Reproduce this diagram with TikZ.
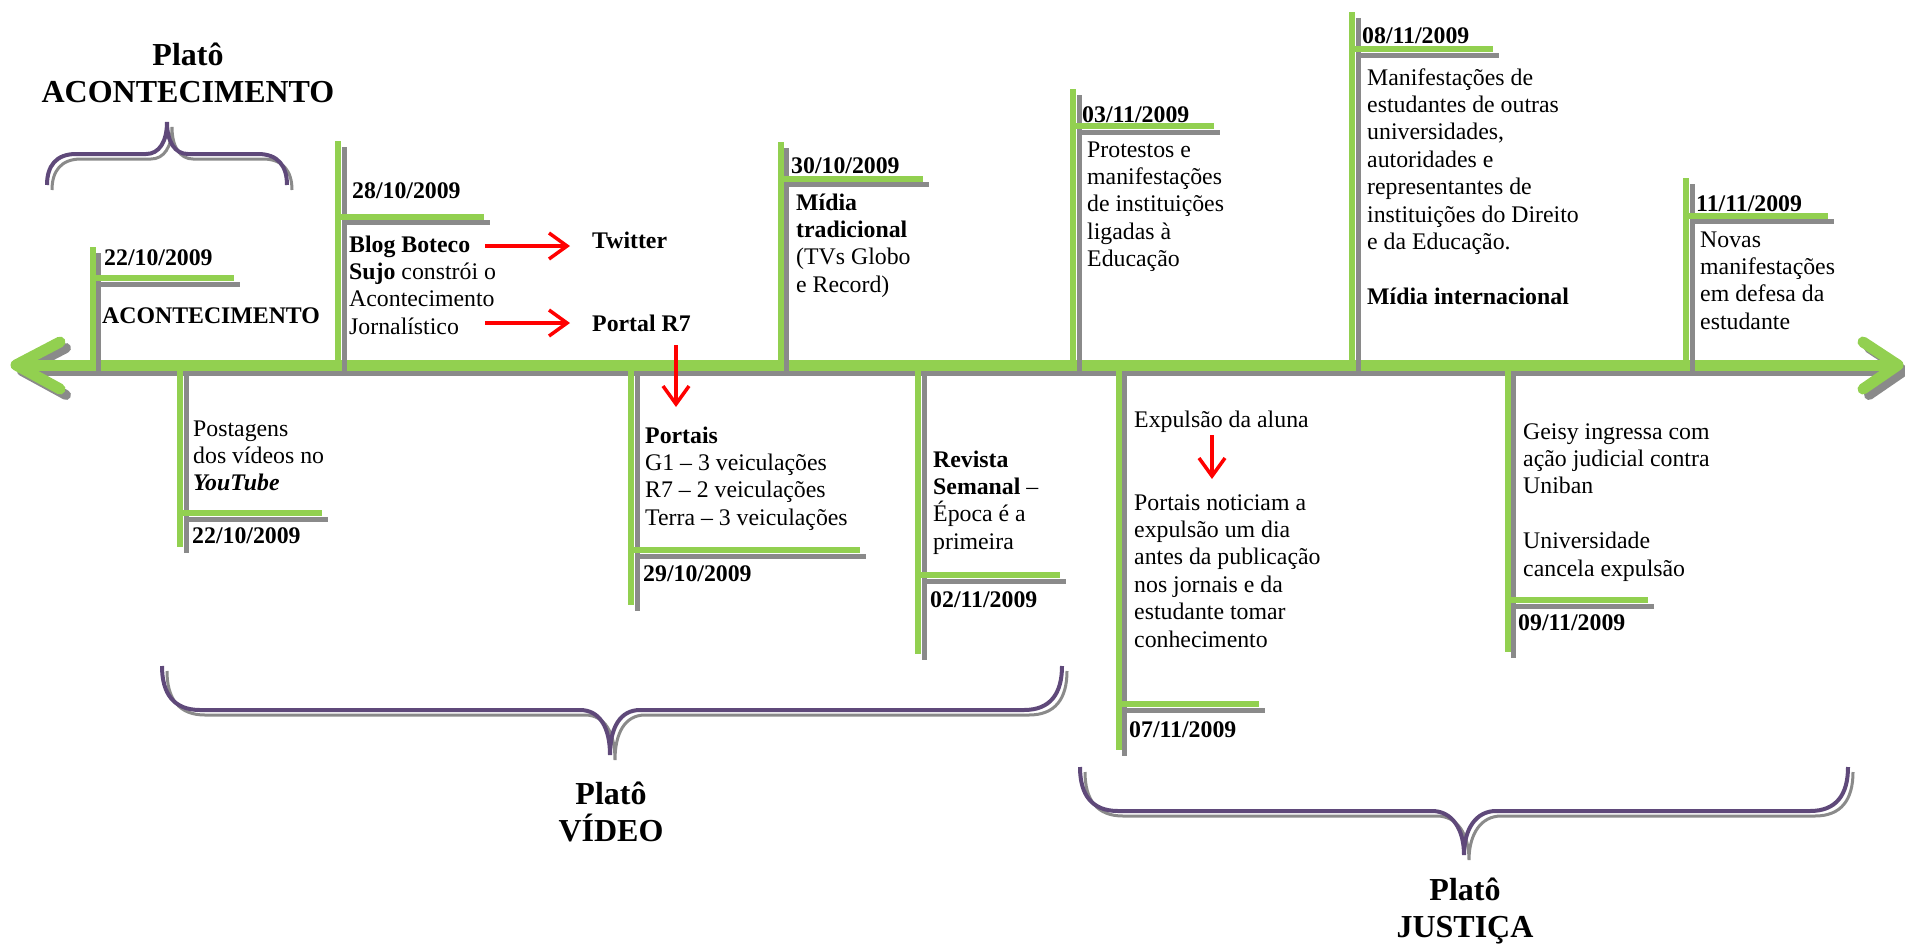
\documentclass[tikz,border=0pt]{standalone}
\usepackage{fontspec}
\setmainfont{Liberation Serif}
\usetikzlibrary{arrows.meta}
\definecolor{tlgreen}{HTML}{92D050}
\definecolor{tlpurple}{HTML}{5F497A}
\definecolor{tlshadow}{HTML}{8A8A8A}
\newcommand\tlmark[5]{%
  \draw[shadow line,shift={(6,6)}] (#1,#2) -- (#1,#3) (#1,#4) -- (#5,#4);
  \draw[green line] (#1,#2) -- (#1,#3) (#1,#4) -- (#5,#4);
}
\begin{document}
\begin{tikzpicture}[x=1pt,y=-1pt,
  green line/.style={draw=tlgreen,line width=6pt},
  shadow line/.style={draw=tlshadow,line width=5pt},
  axis line/.style={draw=tlgreen,line width=11pt,line cap=round,line join=round},
  axis shadow/.style={draw=tlshadow,line width=10pt,line cap=round,line join=round},
  brace line/.style={draw=tlpurple,line width=4pt,line cap=butt},
  brace shadow/.style={draw=tlshadow,line width=3pt,line cap=butt},
  redarrow/.style={draw=red,line width=3.5pt,-{Straight Barb[length=18pt,width=26pt,line width=3.5pt]}},
  txt/.style={font=\fontsize{23.8}{27.4}\selectfont,inner sep=0pt,anchor=base west,align=left},
  datetxt/.style={txt,font=\fontsize{23.8}{27.4}\selectfont\bfseries},
  plato/.style={font=\fontsize{32}{37}\selectfont\bfseries,inner sep=0pt,anchor=base,align=center},
]
\useasboundingbox (0,0) rectangle (1905,946);

% ---------- axis ----------
\begin{scope}[shift={(6,6)}]
  \draw[axis shadow] (20,365) -- (1892,365);
  \draw[axis shadow] (60,342) -- (16,365) -- (60,389);
  \draw[axis shadow] (1863,342) -- (1898,365) -- (1863,389);
\end{scope}
\draw[axis line] (20,365) -- (1892,365);
\draw[axis line] (60,342) -- (16,365) -- (60,389);
\draw[axis line] (1863,342) -- (1898,365) -- (1863,389);

% ---------- event marks ----------
\tlmark{92.5}{247}{365}{278}{234}
\tlmark{180}{365}{547}{513}{322}
\tlmark{338}{141}{365}{216.5}{484}
\tlmark{631}{365}{605}{550}{860}
\tlmark{780.5}{142}{365}{178.5}{923}
\tlmark{918}{365}{654}{575}{1060}
\tlmark{1073}{89}{365}{126}{1214}
\tlmark{1352}{12}{365}{49}{1493}
\tlmark{1118.5}{365}{750}{704}{1259}
\tlmark{1507.5}{365}{652}{600}{1648}
\tlmark{1686}{178}{365}{215.5}{1828}

% ---------- texts (multi-line nodes are placed by their last baseline) ----------
\node[datetxt] (d1) at (104,265) {22/10/2009};
\node[datetxt] (t1) at (102,323) {ACONTECIMENTO};

\node[txt] (t2) at (193,490.8) {Postagens\\dos vídeos no\\\textbf{\textit{YouTube}}};
\node[datetxt] (d2) at (192,543) {22/10/2009};

\node[datetxt] (d3) at (352,198) {28/10/2009};
\node[txt] (t3) at (349,334.2) {\textbf{Blog Boteco}\\\textbf{Sujo} constrói o\\Acontecimento\\Jornalístico};
\node[datetxt] (twitter) at (592,248) {Twitter};
\node[datetxt] (portal) at (592,331) {Portal R7};

\node[txt] (t4) at (645,525.2) {\textbf{Portais}\\G1 – 3 veiculações\\R7 – 2 veiculações\\Terra – 3 veiculações};
\node[datetxt] (d4) at (643,581) {29/10/2009};

\node[datetxt] (d5) at (791,173) {30/10/2009};
\node[txt] (t5) at (796,292.2) {\textbf{Mídia}\\\textbf{tradicional}\\(TVs Globo\\e Record)};

\node[txt] (t6) at (933,549.2) {\textbf{Revista}\\\textbf{Semanal} –\\Época é a\\primeira};
\node[datetxt] (d6) at (930,607) {02/11/2009};

\node[datetxt] (d7) at (1082,122) {03/11/2009};
\node[txt] (t7) at (1087,266.6) {Protestos e\\manifestações\\de instituições\\ligadas à\\Educação};

\node[datetxt] (d8) at (1362,43) {08/11/2009};
\node[txt] (t8) at (1367,304.2) {Manifestações de\\estudantes de outras\\universidades,\\autoridades e\\representantes de\\instituições do Direito\\e da Educação.\\[27.4pt]\textbf{Mídia internacional}};

\node[txt] (t9a) at (1134,427) {Expulsão da aluna};
\node[txt] (t9b) at (1134,647) {Portais noticiam a\\expulsão um dia\\antes da publicação\\nos jornais e da\\estudante tomar\\conhecimento};
\node[datetxt] (d9) at (1129,737) {07/11/2009};

\node[txt] (t10) at (1523,576) {Geisy ingressa com\\ação judicial contra\\Uniban\\[27.4pt]Universidade\\cancela expulsão};
\node[datetxt] (d10) at (1518,630) {09/11/2009};

\node[datetxt] (d11) at (1696,211) {11/11/2009};
\node[txt] (t11) at (1700,329.2) {Novas\\manifestações\\em defesa da\\estudante};

% ---------- red arrows ----------
\coordinate (a1s) at (485,246);
\coordinate (a2s) at (485,323);
\coordinate (a3s) at (676,345);
\coordinate (a3e) at (676,407);
\coordinate (a4s) at (1212,435);
\coordinate (a4e) at (1212,479);
\draw[redarrow,shorten >=22pt] (a1s) -- (a1s -| twitter.west);
\draw[redarrow,shorten >=22pt] (a2s) -- (a2s -| portal.west);
\draw[redarrow] (a3s) -- (a3e);
\draw[redarrow] (a4s) -- (a4e);

% ---------- braces ----------
\def\braceA{(47,185) .. controls (47,166) and (56,154) .. (76,154) -- (146,154) .. controls (159,154) and (167,142) .. (167,122) .. controls (167,142) and (175,154) .. (188,154) -- (258,154) .. controls (278,154) and (287,166) .. (287,185)}
\def\braceB{(162,666) .. controls (162,694) and (174,710) .. (200,710) -- (580,710) .. controls (600,710) and (610,728) .. (610,755) .. controls (610,728) and (620,710) .. (640,710) -- (1024,710) .. controls (1050,710) and (1062,694) .. (1062,666)}
\def\braceC{(1080,767) .. controls (1080,795) and (1092,811) .. (1118,811) -- (1432,811) .. controls (1452,811) and (1464,829) .. (1464,855) .. controls (1464,829) and (1476,811) .. (1496,811) -- (1810,811) .. controls (1836,811) and (1848,795) .. (1848,767)}
\begin{scope}[shift={(5,5)}]
  \draw[brace shadow] \braceA;
  \draw[brace shadow] \braceB;
  \draw[brace shadow] \braceC;
\end{scope}
\draw[brace line] \braceA;
\draw[brace line] \braceB;
\draw[brace line] \braceC;

% ---------- plateau labels ----------
\node[plato] (pA) at (188,102) {Platô\\ACONTECIMENTO};
\node[plato] (pB) at (611,841) {Platô\\VÍDEO};
\node[plato] (pC) at (1465,937) {Platô\\JUSTIÇA};
\end{tikzpicture}
\end{document}
